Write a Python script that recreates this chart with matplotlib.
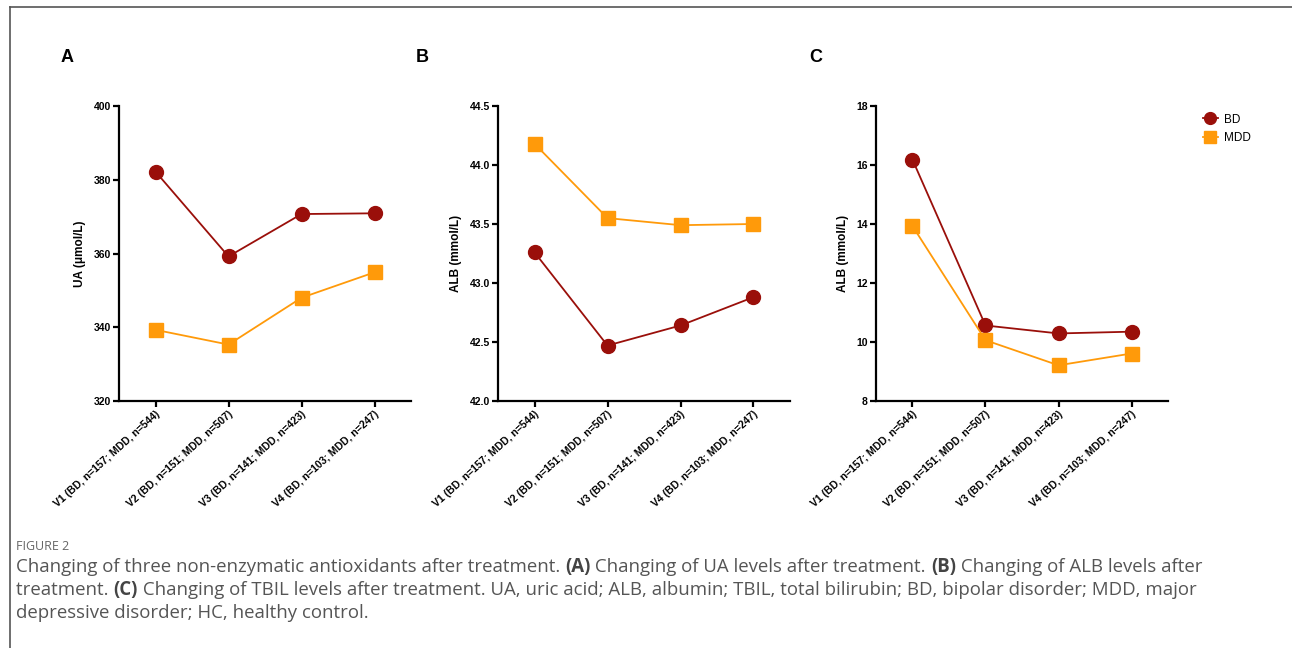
import numpy as np
import matplotlib
matplotlib.use('Agg')
import matplotlib.pyplot as plt
from matplotlib.lines import Line2D

# ── Data ───────────────────────────────────────────────────────────────────────
visits = ['V1 (BD, n=157; MDD, n=544)', 'V2 (BD, n=151; MDD, n=507)',
          'V3 (BD, n=141; MDD, n=423)', 'V4 (BD, n=103; MDD, n=247)']

ua_bd   = [382.2, 359.2, 370.7, 370.9]
ua_mdd  = [339.3, 335.3, 348.0, 354.9]
alb_bd  = [43.26, 42.47, 42.64, 42.88]
alb_mdd = [44.18, 43.55, 43.49, 43.50]
tb_bd   = [16.18, 10.56, 10.29, 10.35]
tb_mdd  = [13.93, 10.06,  9.21,  9.61]

panels = [
    ('A', 'UA (μmol/L)',  ua_bd,  ua_mdd,  (320, 400), np.arange(320, 401, 20), '{:.0f}'),
    ('B', 'ALB (mmol/L)', alb_bd, alb_mdd, (42.0, 44.5), np.arange(42.0, 44.51, 0.5), '{:.1f}'),
    ('C', 'ALB (mmol/L)', tb_bd,  tb_mdd,  (8, 18), np.arange(8, 19, 2), '{:.0f}'),
]

BD_COL  = '#9A0F0A'
MDD_COL = '#FF9A0A'
W, H = 1292, 648

plt.rcParams['font.family'] = ['Liberation Sans', 'DejaVu Sans']

fig = plt.figure(figsize=(W / 100, H / 100), dpi=100)

ax_lefts = [119, 498, 876]
letter_x = [61, 416, 809]
x = np.arange(len(visits))
for (letter, ylabel, bd, mdd, ylim, yticks, fmt), left, lx in zip(panels, ax_lefts, letter_x):
    ax = fig.add_axes([left / W, 1 - 401 / H, 292 / W, 295 / H])
    ax.plot(x, bd, '-o', color=BD_COL, lw=1.3, ms=10, zorder=3, label='BD')
    ax.plot(x, mdd, '-s', color=MDD_COL, lw=1.3, ms=10, zorder=3, label='MDD')
    ax.set_xlim(-0.5, 3.5)
    ax.set_ylim(*ylim)
    ax.set_yticks(yticks)
    ax.set_yticklabels([fmt.format(v) for v in yticks], fontsize=7.5, fontweight='bold')
    ax.set_xticks(x)
    ax.set_xticklabels(visits, rotation=42, ha='right', rotation_mode='anchor',
                       fontsize=7.5, fontweight='bold')
    ax.set_ylabel(ylabel, fontsize=8.5, fontweight='bold', labelpad=5)
    for s in ['top', 'right']:
        ax.spines[s].set_visible(False)
    for s in ['left', 'bottom']:
        ax.spines[s].set_linewidth(1.6)
    ax.tick_params(width=1.6, length=4, pad=2)
    fig.text(lx / W, 1 - 58 / H, letter, fontsize=13, fontweight='bold',
             ha='left', va='center')

# legend on panel C
leg = fig.axes[-1].legend(loc='upper left', bbox_to_anchor=(1192 / W, 1 - 103 / H),
                          bbox_transform=fig.transFigure, frameon=False,
                          fontsize=8.5, handlelength=1.3, markerscale=0.85,
                          labelspacing=0.55, handletextpad=0.5)

# frame lines
fig.add_artist(Line2D([10 / W, 10 / W], [0, 1 - 7 / H], color='#555555', lw=1.2))
fig.add_artist(Line2D([10 / W, 1], [1 - 7 / H, 1 - 7 / H], color='#555555', lw=1.2))

# caption
CAP_COL = '#555555'
fig.text(16 / W, 1 - 547 / H, 'FIGURE 2', fontsize=9, color='#666666',
         family=['Open Sans', 'DejaVu Sans'], va='center')

lines = [
    [('Changing of three non-enzymatic antioxidants after treatment. ', False),
     ('(A)', True), (' Changing of UA levels after treatment. ', False),
     ('(B)', True), (' Changing of ALB levels after', False)],
    [('treatment. ', False), ('(C)', True),
     (' Changing of TBIL levels after treatment. UA, uric acid; ALB, albumin; TBIL, total bilirubin; BD, bipolar disorder; MDD, major', False)],
    [('depressive disorder; HC, healthy control.', False)],
]
line_y = [567, 590, 613]

fig.canvas.draw()
renderer = fig.canvas.get_renderer()
for segs, yy in zip(lines, line_y):
    xpos = 16
    for txt, bold in segs:
        t = fig.text(xpos / W, 1 - yy / H, txt, fontsize=13.4,
                     color='#444444' if bold else CAP_COL,
                     fontweight='bold' if bold else 'normal',
                     family=['Open Sans', 'DejaVu Sans'], va='center')
        bb = t.get_window_extent(renderer)
        xpos = bb.x1

fig.savefig('out.png', dpi=100)
